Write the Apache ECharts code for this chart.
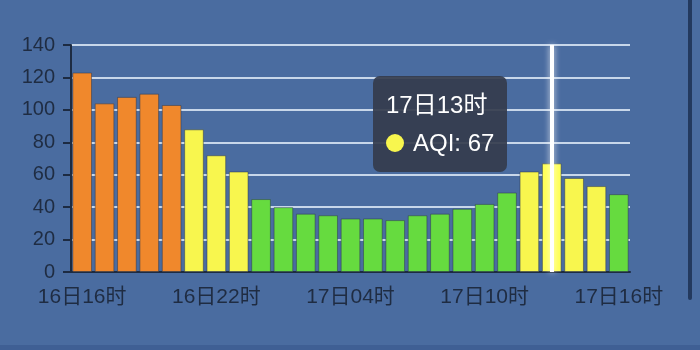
<!DOCTYPE html>
<html>
<head>
<meta charset="utf-8">
<script src="https://cdn.jsdelivr.net/npm/echarts@6/dist/echarts.min.js"></script>
<style>
html,body{margin:0;padding:0;background:#4a6ca0;}
#main{width:700px;height:350px;}
</style>
</head>
<body>
<div id="main"></div>
<script>
var categories = ['16日16时','16日17时','16日18时','16日19时','16日20时','16日21时','16日22时','16日23时','17日00时','17日01时','17日02时','17日03时','17日04时','17日05时','17日06时','17日07时','17日08时','17日09时','17日10时','17日11时','17日12时','17日13时','17日14时','17日15时','17日16时'];
var aqiValues = [123,104,108,110,103,88,72,62,45,40,36,35,33,33,32,35,36,39,42,49,62,67,58,53,48];
var yTicks = [0,20,40,60,80,100,120,140];
var seriesName = 'AQI';
var highlightIndex = 21;

var FONT = "'Liberation Sans','Noto Sans CJK SC',sans-serif";
var chart = echarts.init(document.getElementById('main'), null, {renderer:'canvas'});
chart.setOption({
  animation: false,
  backgroundColor: '#4a6ca0',
  grid: {left: 71, right: 70, top: 45, bottom: 78},
  visualMap: {
    show: false,
    dimension: 1,
    pieces: [
      {lt: 50, color: '#66db3f'},
      {gte: 50, lte: 100, color: '#f8f64e'},
      {gt: 100, color: '#f0882c'}
    ]
  },
  tooltip: {
    trigger: 'axis',
    triggerOn: 'none',
    alwaysShowContent: true,
    transitionDuration: 0,
    backgroundColor: 'rgba(52,60,76,0.92)',
    borderWidth: 0,
    padding: [10, 13],
    extraCssText: 'border-radius:7px;box-shadow:none;',
    textStyle: {color: '#fff', fontSize: 24, fontFamily: FONT},
    position: function () { return [373, 76]; },
    axisPointer: {
      type: 'line',
      lineStyle: {color: '#ffffff', width: 4, type: 'solid', shadowBlur: 6, shadowColor: 'rgba(255,255,255,0.8)'}
    },
    formatter: function (params) {
      var p = params[0];
      return '<div style="line-height:38px;font-size:24px;font-family:' + FONT.replace(/'/g, '&quot;') + '">' + p.name + '<br/>' +
        '<span style="display:inline-block;width:18px;height:18px;border-radius:9px;background:' + p.color + ';margin-right:9px;vertical-align:-1px;"></span>' +
        p.seriesName + ': ' + p.value + '</div>';
    }
  },
  xAxis: {
    type: 'category',
    data: categories,
    axisLine: {lineStyle: {color: '#1d2b42', width: 2}},
    axisTick: {interval: 5, length: 6, lineStyle: {color: '#1d2b42', width: 2}},
    axisLabel: {interval: 5, color: '#1f2c42', fontSize: 21, fontFamily: FONT, margin: 15}
  },
  yAxis: {
    type: 'value',
    min: yTicks[0],
    max: yTicks[yTicks.length - 1],
    interval: yTicks[1] - yTicks[0],
    axisLine: {show: true, lineStyle: {color: '#1d2b42', width: 2}},
    axisTick: {show: true, length: 8, lineStyle: {color: '#1d2b42', width: 2}},
    axisLabel: {color: '#1f2c42', fontSize: 20, fontFamily: FONT, margin: 16},
    splitLine: {lineStyle: {color: '#c8d7ea', width: 2}}
  },
  graphic: [
    {type: 'line', shape: {x1: 690, y1: 0, x2: 690, y2: 298}, style: {stroke: '#23395e', lineWidth: 4, lineCap: 'round'}},
    {type: 'rect', shape: {x: 0, y: 345, width: 700, height: 5}, style: {fill: '#3f5f94'}}
  ],
  series: [{
    name: seriesName,
    type: 'bar',
    data: aqiValues,
    barCategoryGap: '12%',
    itemStyle: {borderColor: 'rgba(45,55,75,0.5)', borderWidth: 1}
  }]
});
chart.dispatchAction({type: 'showTip', seriesIndex: 0, dataIndex: highlightIndex});
</script>
</body>
</html>
